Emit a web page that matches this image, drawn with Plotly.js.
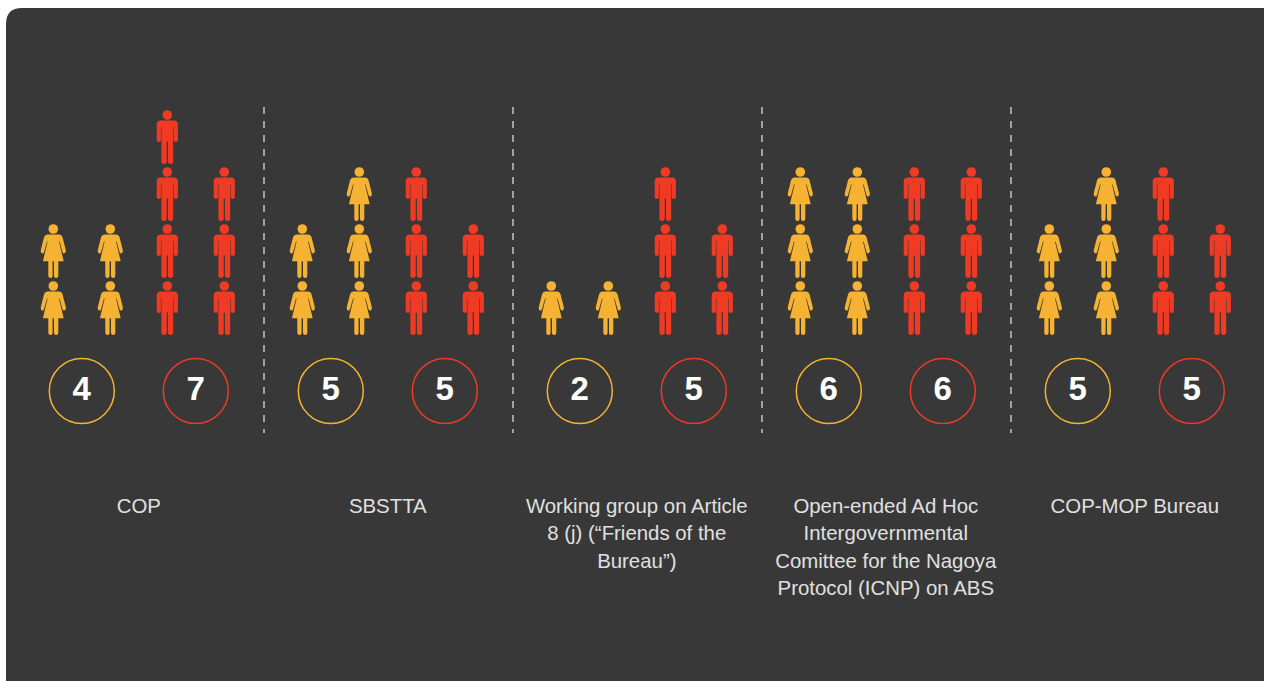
<!DOCTYPE html>
<html>
<head>
<meta charset="utf-8">
<script src="https://cdn.plot.ly/plotly-3.0.1.min.js"></script>
<style>html,body{margin:0;padding:0;background:#fff;overflow:hidden}#chart{width:1264px;height:681px}</style>
</head>
<body>
<div id="chart"></div>
<script>
// ---- data ----
const bodies = ["COP", "SBSTTA", "Working group on Article 8 (j)", "Open-ended Ad Hoc ICNP", "COP-MOP Bureau"];
const womenCounts = [4, 5, 2, 6, 5];
const menCounts = [7, 5, 5, 6, 5];
const labelLines = [
  ["COP"],
  ["SBSTTA"],
  ["Working group on Article", "8 (j) (“Friends of the", "Bureau”)"],
  ["Open-ended Ad Hoc", "Intergovernmental", "Comittee for the Nagoya", "Protocol (ICNP) on ABS"],
  ["COP-MOP Bureau"]
];

// ---- style and scale ----
const WOMAN = "#F5B233", MAN = "#EF3A24", PANEL = "#383838", TEXT = "#E0E0E0";
const W = 1264, H = 681;
const PITCH = 57;                    // px per column / row
const GROUP = 249 / PITCH;           // columns between two groups
const X0 = 53.3, Y0 = 286;           // px of column 0 and of the head of row 0
const CIRCLE_Y = (Y0 - 391) / PITCH, NUMBER_Y = (Y0 - 392) / PITCH;
const LABEL_Y = (Y0 - 508) / PITCH, LABEL_STEP = 27.3 / PITCH;
const DIV_TOP = (Y0 - 107) / PITCH, DIV_BOTTOM = (Y0 - 433) / PITCH;
const DIV_X = (264 - X0) / PITCH;

const HEAD = 49;
const shift = d => d.replace(/(-?[\d.]+) (-?[\d.]+)/g, (m, x, y) => x + " " + (parseFloat(y) - HEAD).toFixed(2));
const womanPath = shift("M -5.5 43.4 L 5.5 43.4 Q 8.4 43.4 9.3 40.5 L 12.6 27.5 Q 12.9 25 10.8 24.4 Q 9.7 24.2 9.2 26 L 6.3 36.5 L 5.7 36.5 L 10.4 16.7 L 5 16.7 L 5 2.3 Q 5 0 2.85 0 Q 0.7 0 0.7 2.3 L 0.7 16.7 L -0.7 16.7 L -0.7 2.3 Q -0.7 0 -2.85 0 Q -5 0 -5 2.3 L -5 16.7 L -10.4 16.7 L -5.7 36.5 L -6.3 36.5 L -9.2 26 Q -9.7 24.2 -10.8 24.4 Q -12.9 25 -12.6 27.5 L -9.3 40.5 Q -8.4 43.4 -5.5 43.4 Z");
const manPath = shift("M -6.5 43.6 L 6.5 43.6 Q 10.6 43.6 10.6 39.5 L 10.6 24 Q 10.6 22 8.5 22 Q 6.4 22 6.4 24 L 6.4 37 L 5.9 37 L 5.9 2.4 Q 5.9 0 3.3 0 Q 0.6 0 0.6 2.4 L 0.6 22.5 L -0.6 22.5 L -0.6 2.4 Q -0.6 0 -3.3 0 Q -5.9 0 -5.9 2.4 L -5.9 37 L -6.4 37 L -6.4 24 Q -6.4 22 -8.5 22 Q -10.6 22 -10.6 24 L -10.6 39.5 Q -10.6 43.6 -6.5 43.6 Z");

// ---- the dark panel, drawn in page pixels (image y converted to y-up) ----
const panelPath = "M 6 679 L 6 24 Q 6 8 22 8 L 1262 8 Q 1280 8 1280 26 L 1280 695 L 22 695 Q 6 695 6 679 Z"
  .replace(/(-?\d+) (-?\d+)/g, (m, x, y) => x + " " + (H - y));

// ---- build points: each count is stacked in two columns ----
const shapes = [{
  type: "path", layer: "below", xref: "paper", yref: "paper",
  xsizemode: "pixel", ysizemode: "pixel", xanchor: 0, yanchor: 0,
  path: panelPath, fillcolor: PANEL, line: {width: 0}
}];
const wx = [], wy = [], mx = [], my = [];
function stack(xs, ys, col, n, path, color, g) {
  for (let r = 0; r < n; r++) {
    const x = g * GROUP + col;
    xs.push(x); ys.push(r);
    shapes.push({type: "path", layer: "below", xref: "x", yref: "y",
      xsizemode: "pixel", ysizemode: "pixel", xanchor: x, yanchor: r,
      path: path, fillcolor: color, line: {width: 0}});
  }
}
bodies.forEach((b, g) => {
  const w = womenCounts[g], m = menCounts[g];
  stack(wx, wy, 0, Math.floor(w / 2), womanPath, WOMAN, g);
  stack(wx, wy, 1, Math.ceil(w / 2), womanPath, WOMAN, g);
  stack(mx, my, 2, Math.ceil(m / 2), manPath, MAN, g);
  stack(mx, my, 3, Math.floor(m / 2), manPath, MAN, g);
});

const heads = (name, x, y, color) => ({type: "scatter", mode: "markers", name, x, y,
  marker: {symbol: "circle", size: 9.6, color, line: {width: 0}}, cliponaxis: false});
const ring = (name, offset, color) => ({type: "scatter", mode: "markers", name,
  x: bodies.map((b, g) => g * GROUP + offset), y: bodies.map(() => CIRCLE_Y),
  marker: {symbol: "circle", size: 65, color: "rgba(0,0,0,0)", line: {color, width: 1.5}}, cliponaxis: false});
const numbers = (name, offset, values) => ({type: "scatter", mode: "text", name,
  x: bodies.map((b, g) => g * GROUP + offset), y: bodies.map(() => NUMBER_Y),
  text: values.map(String), textposition: "middle center",
  textfont: {family: "Liberation Sans, Arial, sans-serif", size: 33, color: "#FFFFFF", weight: 700}, cliponaxis: false});

const divX = [], divY = [];
for (let k = 0; k < bodies.length - 1; k++) {
  divX.push(k * GROUP + DIV_X, k * GROUP + DIV_X, null);
  divY.push(DIV_TOP, DIV_BOTTOM, null);
}
const lx = [], ly = [], lt = [];
labelLines.forEach((lines, g) => lines.forEach((t, i) => {
  lx.push(g * GROUP + 1.5); ly.push(LABEL_Y - i * LABEL_STEP); lt.push(t);
}));

const traces = [
  {type: "scatter", mode: "lines", name: "dividers", x: divX, y: divY,
   line: {color: "#DADADA", width: 1.3, dash: "7px,7px"}, connectgaps: false},
  heads("Women", wx, wy, WOMAN),
  heads("Men", mx, my, MAN),
  ring("Women ring", 0.5, WOMAN),
  ring("Men ring", 2.5, MAN),
  numbers("Women total", 0.5, womenCounts),
  numbers("Men total", 2.5, menCounts),
  {type: "scatter", mode: "text", name: "labels", x: lx, y: ly, text: lt,
   textposition: "middle center",
   textfont: {family: "Liberation Sans, Arial, sans-serif", size: 20.4, color: TEXT}, cliponaxis: false}
];

const axis = range => ({range, visible: false, fixedrange: true, showgrid: false, zeroline: false});
Plotly.newPlot("chart", traces, {
  width: W, height: H,
  margin: {l: 0, r: 0, t: 0, b: 0, pad: 0},
  paper_bgcolor: "#FFFFFF", plot_bgcolor: "rgba(0,0,0,0)",
  showlegend: false, hovermode: false,
  xaxis: axis([-X0 / PITCH, (W - X0) / PITCH]),
  yaxis: axis([(Y0 - H) / PITCH, Y0 / PITCH]),
  shapes: shapes
}, {displayModeBar: false, staticPlot: true});
</script>
</body>
</html>
